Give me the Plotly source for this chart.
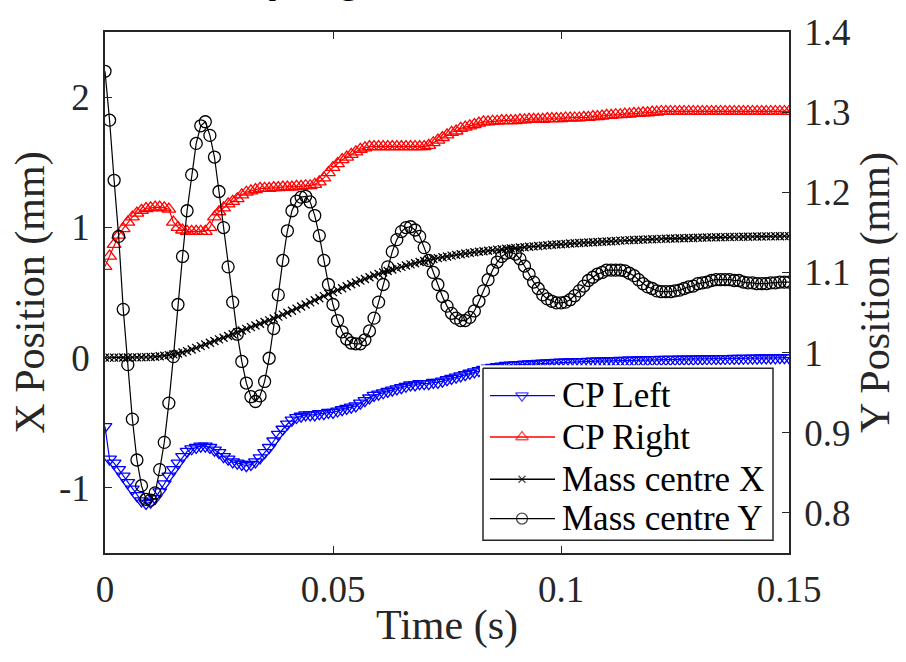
import numpy as np
import plotly.graph_objects as go

# time vector (s), 1 ms steps
time_s = np.round(np.arange(0, 0.1505, 0.001), 3)

cp_left = [
    -0.53, -0.78, -0.81, -0.86, -0.91, -0.96, -1.01, -1.06, -1.10, -1.12,
    -1.11, -1.08, -1.03, -0.97, -0.91, -0.86, -0.81, -0.76, -0.72, -0.70,
    -0.69, -0.68, -0.68, -0.69, -0.71, -0.73, -0.76, -0.78, -0.80, -0.81,
    -0.82, -0.83, -0.82, -0.80, -0.77, -0.73, -0.69, -0.64, -0.59, -0.55,
    -0.51, -0.48, -0.46, -0.45, -0.44, -0.44, -0.44, -0.43, -0.43, -0.42,
    -0.42, -0.41, -0.40, -0.39, -0.38, -0.37, -0.35, -0.33, -0.31, -0.29,
    -0.28, -0.27, -0.26, -0.25, -0.24, -0.23, -0.22, -0.21, -0.21, -0.20,
    -0.20, -0.20, -0.19, -0.19, -0.18, -0.17, -0.16, -0.15, -0.14, -0.13,
    -0.12, -0.11, -0.10, -0.09, -0.08, -0.075, -0.07, -0.065, -0.06, -0.057,
    -0.055, -0.053, -0.051, -0.049, -0.047, -0.045, -0.043, -0.041, -0.039, -0.037,
    -0.035, -0.034, -0.033, -0.032, -0.031, -0.030, -0.029, -0.028, -0.027, -0.026,
    -0.025, -0.024, -0.023, -0.022, -0.021, -0.020, -0.019, -0.018, -0.017, -0.016,
    -0.015, -0.015, -0.014, -0.014, -0.013, -0.013, -0.012, -0.012, -0.011, -0.011,
    -0.010, -0.010, -0.009, -0.009, -0.008, -0.008, -0.007, -0.007, -0.006, -0.006,
    -0.005, -0.005, -0.004, -0.004, -0.003, -0.003, -0.002, -0.002, -0.001, -0.001, 0.000,
]

cp_right = [
    0.70, 0.78, 0.87, 0.94, 0.99, 1.04, 1.08, 1.11, 1.13, 1.145,
    1.15, 1.155, 1.155, 1.15, 1.14, 1.04, 1.00, 0.98, 0.97, 0.97,
    0.97, 0.97, 0.97, 1.00, 1.08, 1.12, 1.15, 1.18, 1.20, 1.22,
    1.25, 1.27, 1.28, 1.29, 1.30, 1.30, 1.30, 1.305, 1.305, 1.31,
    1.31, 1.31, 1.315, 1.315, 1.32, 1.32, 1.33, 1.35, 1.38, 1.42,
    1.46, 1.49, 1.52, 1.54, 1.56, 1.58, 1.60, 1.61, 1.62, 1.62,
    1.62, 1.62, 1.62, 1.62, 1.62, 1.62, 1.62, 1.62, 1.62, 1.62,
    1.62, 1.63, 1.65, 1.67, 1.69, 1.71, 1.73, 1.74, 1.76, 1.77,
    1.78, 1.79, 1.80, 1.81, 1.81, 1.815, 1.815, 1.82, 1.82, 1.82,
    1.82, 1.825, 1.825, 1.83, 1.83, 1.83, 1.83, 1.835, 1.835, 1.835,
    1.835, 1.84, 1.84, 1.84, 1.84, 1.845, 1.845, 1.85, 1.85, 1.855,
    1.86, 1.86, 1.865, 1.865, 1.87, 1.87, 1.875, 1.875, 1.88, 1.88,
    1.885, 1.885, 1.89, 1.89, 1.89, 1.89, 1.89, 1.89, 1.89, 1.89,
    1.89, 1.89, 1.89, 1.89, 1.89, 1.89, 1.89, 1.89, 1.89, 1.89,
    1.89, 1.89, 1.89, 1.89, 1.89, 1.89, 1.89, 1.89, 1.89, 1.89, 1.89,
]

mass_x = [
    0.000, 0.000, 0.000, 0.000, 0.001, 0.001, 0.002, 0.002, 0.003, 0.004,
    0.005, 0.007, 0.010, 0.014, 0.019, 0.025, 0.032, 0.040, 0.050, 0.062,
    0.075, 0.088, 0.101, 0.114, 0.127, 0.140, 0.153, 0.166, 0.180, 0.194,
    0.208, 0.221, 0.234, 0.247, 0.260, 0.273, 0.286, 0.300, 0.315, 0.330,
    0.345, 0.360, 0.376, 0.392, 0.408, 0.424, 0.440, 0.456, 0.472, 0.488,
    0.503, 0.518, 0.533, 0.548, 0.563, 0.577, 0.591, 0.604, 0.617, 0.630,
    0.642, 0.654, 0.665, 0.676, 0.687, 0.697, 0.707, 0.716, 0.725, 0.734,
    0.742, 0.750, 0.757, 0.764, 0.771, 0.777, 0.783, 0.789, 0.794, 0.799,
    0.804, 0.809, 0.813, 0.817, 0.821, 0.825, 0.829, 0.832, 0.836, 0.839,
    0.842, 0.845, 0.848, 0.851, 0.854, 0.857, 0.860, 0.863, 0.866, 0.868,
    0.871, 0.873, 0.876, 0.878, 0.880, 0.882, 0.884, 0.886, 0.888, 0.890,
    0.892, 0.894, 0.896, 0.898, 0.900, 0.902, 0.903, 0.905, 0.906, 0.908,
    0.909, 0.910, 0.912, 0.913, 0.914, 0.915, 0.916, 0.917, 0.918, 0.919,
    0.920, 0.921, 0.922, 0.923, 0.924, 0.924, 0.925, 0.926, 0.927, 0.927,
    0.928, 0.928, 0.929, 0.930, 0.930, 0.931, 0.931, 0.932, 0.932, 0.933, 0.933,
]

mass_y = [
    1.351, 1.290, 1.215, 1.145, 1.054, 0.985, 0.917, 0.866, 0.834, 0.817,
    0.816, 0.825, 0.854, 0.888, 0.937, 0.995, 1.060, 1.120, 1.177, 1.222,
    1.261, 1.283, 1.288, 1.271, 1.244, 1.201, 1.156, 1.107, 1.063, 1.023,
    0.989, 0.962, 0.945, 0.939, 0.946, 0.964, 0.993, 1.030, 1.072, 1.115,
    1.152, 1.177, 1.189, 1.194, 1.195, 1.188, 1.171, 1.146, 1.115, 1.085,
    1.060, 1.040, 1.026, 1.017, 1.012, 1.011, 1.011, 1.016, 1.027, 1.043,
    1.063, 1.085, 1.107, 1.126, 1.141, 1.151, 1.156, 1.157, 1.153, 1.145,
    1.131, 1.115, 1.100, 1.085, 1.070, 1.058, 1.049, 1.043, 1.040, 1.040,
    1.044, 1.052, 1.064, 1.077, 1.091, 1.103, 1.113, 1.120, 1.124, 1.125,
    1.123, 1.117, 1.108, 1.098, 1.088, 1.080, 1.072, 1.067, 1.064, 1.062,
    1.062, 1.063, 1.066, 1.071, 1.077, 1.083, 1.090, 1.094, 1.098, 1.100,
    1.103, 1.103, 1.103, 1.103, 1.102, 1.099, 1.096, 1.091, 1.086, 1.082,
    1.080, 1.077, 1.076, 1.076, 1.076, 1.077, 1.078, 1.080, 1.082, 1.083,
    1.086, 1.087, 1.088, 1.090, 1.091, 1.091, 1.091, 1.091, 1.090, 1.090,
    1.088, 1.087, 1.087, 1.086, 1.086, 1.086, 1.087, 1.087, 1.088, 1.088, 1.088,
]

series_names = ["CP Left", "CP Right", "Mass centre X", "Mass centre Y"]

x_ticks = [0, 0.05, 0.1, 0.15]
x_ticktext = ["0", "0.05", "0.1", "0.15"]
yl_ticks = [-1, 0, 1, 2]
yl_ticktext = ["-1", "0", "1", "2"]
yr_ticks = [0.8, 0.9, 1.0, 1.1, 1.2, 1.3, 1.4]
yr_ticktext = ["0.8", "0.9", "1", "1.1", "1.2", "1.3", "1.4"]

SERIF = "Liberation Serif, Times New Roman, serif"
AX = "#262626"

styles = [
    dict(color="#0000ff", symbol="triangle-down-open", size=12, axis="y"),
    dict(color="#ff0000", symbol="triangle-up-open", size=12, axis="y"),
    dict(color="black", symbol="x-thin-open", size=8, axis="y"),
    dict(color="black", symbol="circle-open", size=12, axis="y2"),
]
series_vals = [cp_left, cp_right, mass_x, mass_y]

fig = go.Figure()
for name, vals, st in zip(series_names, series_vals, styles):
    fig.add_trace(go.Scatter(
        x=time_s, y=vals, name=name, mode="lines+markers", yaxis=st["axis"],
        line=dict(color=st["color"], width=1.2),
        marker=dict(symbol=st["symbol"], size=st["size"], color=st["color"],
                    line=dict(width=1.3, color=st["color"])),
        showlegend=False,
    ))

# ---- legend drawn in an inset axis (units = pixels of the legend area) ----
leg_box_x = [483, 773, 773, 483, 483]
leg_box_y = [365, 365, 540, 540, 365]
leg_row_y = [393, 435, 478, 518]
leg_sample_x = [490, 522, 555]
leg_text_x = 560

fig.add_trace(go.Scatter(
    x=leg_box_x, y=leg_box_y, xaxis="x3", yaxis="y3", mode="lines",
    fill="toself", fillcolor="white", line=dict(color=AX, width=1.5),
    showlegend=False, hoverinfo="skip",
))
for name, st, ry in zip(series_names, styles, leg_row_y):
    fig.add_trace(go.Scatter(
        x=leg_sample_x, y=[ry] * 3, xaxis="x3", yaxis="y3", mode="lines+markers",
        line=dict(color=st["color"], width=1.3),
        marker=dict(symbol=st["symbol"], size=[0, st["size"] - 1, 0], color=st["color"],
                    line=dict(width=1.3, color=st["color"])),
        showlegend=False, hoverinfo="skip",
    ))
    fig.add_annotation(
        text=name, xref="x3", yref="y3", x=leg_text_x, y=ry,
        xanchor="left", yanchor="middle", showarrow=False,
        font=dict(family=SERIF, size=35, color="black"),
    )

axis_common = dict(
    ticks="inside", ticklen=7, tickwidth=1.3, tickcolor=AX,
    showline=True, linecolor=AX, linewidth=1.6,
    showgrid=False, zeroline=False,
    tickfont=dict(family=SERIF, size=37, color="#262626"),
)
title_font = dict(family=SERIF, size=42, color="#262626")

fig.update_layout(
    width=906, height=662,
    margin=dict(l=105, r=117, t=23, b=109),
    paper_bgcolor="white", plot_bgcolor="white",
    font=dict(family=SERIF, color="#262626"),
    showlegend=False,
    xaxis=dict(
        range=[0, 0.15], tickvals=x_ticks, ticktext=x_ticktext, mirror="ticks",
        title=dict(text="Time (s)", font=title_font, standoff=0),
        ticklabelstandoff=3,
        **axis_common,
    ),
    yaxis=dict(
        range=[-1.5, 2.5], tickvals=yl_ticks, ticktext=yl_ticktext,
        title=dict(text="X Position (mm)", font=title_font, standoff=1),
        ticklabelstandoff=6,
        **axis_common,
    ),
    yaxis2=dict(
        range=[0.75, 1.4], tickvals=yr_ticks, ticktext=yr_ticktext,
        overlaying="y", side="right",
        title=dict(text="Y Position (mm)", font=title_font, standoff=10),
        ticklabelstandoff=6,
        **axis_common,
    ),
    xaxis3=dict(domain=[(480 - 105) / 684, (776 - 105) / 684], range=[480, 776],
                anchor="y3", visible=False, fixedrange=True),
    yaxis3=dict(domain=[(553 - 543) / 530, (553 - 362) / 530], range=[543, 362],
                anchor="x3", visible=False, fixedrange=True),
)

fig.add_annotation(
    text="ping", xref="paper", yref="paper", x=0.3056, y=1.056,
    xanchor="center", yanchor="bottom", showarrow=False,
    font=dict(family="Liberation Sans", size=46, color="black", weight="bold"),
)

fig.write_html("out.html")
